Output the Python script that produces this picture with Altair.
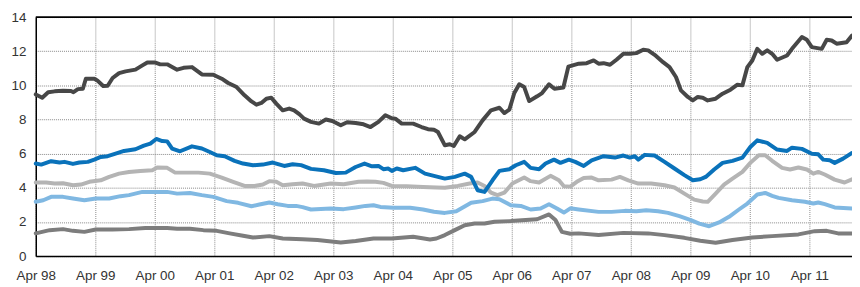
import altair as alt
import pandas as pd

# months since April 1998, and values
a_m = [0, 1.3, 2.5, 3.8, 5.5, 7.1, 7.6, 8.5, 9.5, 10.1, 11.8, 12.4, 13.6, 14.5, 15.5, 16.8, 18.1, 20.1, 21.5, 22.5,
       24, 25.1, 26.5, 28.5, 29.8, 31.5, 33.5, 35.8, 37.5, 38.8, 40.5, 42.1, 43.5, 44.5, 45.5, 46.5, 47.5, 48.5, 49.8,
       51.1, 52.1, 53.2, 54.1, 55.5, 57.1, 58.5, 59.8, 61.5, 62.8, 64.5, 66.1, 67.5, 69.1, 70.5, 71.8, 72.5, 73.8,
       76.1, 77.8, 79.1, 80.3, 81.1, 82.5, 83.5, 84.3, 85.5, 86.5, 88.5, 90.1, 91.8, 93.5, 94.5, 95.5, 96.5, 97.5,
       98.5, 99.5, 101.1, 102.1, 103.5, 104.6, 106.4, 107.4, 109.5, 111.1, 112.5, 113.5, 114.5, 115.8, 117.1, 118.5,
       119.8, 121.1, 122.5, 123.5, 124.8, 126.5, 127.8, 129.1, 130.1, 131.5, 132.5, 133.5, 134.5, 135.5, 137.1,
       138.5, 140.1, 141.5, 142.5, 143.5, 144.5, 145.5, 146.5, 147.5, 148.5, 149.5, 151.5, 152.5, 154.5, 155.5,
       156.5, 158.5, 159.5, 160.5, 161.5, 163.5, 164.6]
a_v = [9.47, 9.28, 9.6, 9.65, 9.69, 9.67, 9.6, 9.78, 9.8, 10.39, 10.39, 10.29, 9.96, 9.98, 10.43, 10.72, 10.82, 10.92,
       11.17, 11.34, 11.34, 11.23, 11.23, 10.92, 11.03, 11.07, 10.64, 10.62, 10.39, 10.14, 9.9, 9.42, 9.06, 8.87,
       8.97, 9.22, 9.28, 8.93, 8.54, 8.64, 8.54, 8.3, 8.05, 7.86, 7.76, 8.0, 7.91, 7.66, 7.84, 7.8, 7.72, 7.56, 7.86,
       8.25, 8.07, 8.05, 7.76, 7.76, 7.56, 7.43, 7.4, 7.27, 6.49, 6.55, 6.45, 7.02, 6.84, 7.27, 7.95, 8.54, 8.69,
       8.38, 8.58, 9.55, 10.06, 9.9, 9.08, 9.36, 9.55, 10.06, 9.8, 9.88, 11.1, 11.27, 11.3, 11.46, 11.27, 11.3,
       11.21, 11.5, 11.85, 11.85, 11.89, 12.09, 12.05, 11.79, 11.36, 11.07, 10.49, 9.71, 9.32, 9.12, 9.32, 9.28,
       9.12, 9.22, 9.51, 9.75, 10.04, 10.0, 11.07, 11.46, 12.14, 11.85, 12.05, 11.85, 11.5, 11.75, 12.14, 12.83,
       12.67, 12.24, 12.14, 12.67, 12.63, 12.44, 12.53, 12.92]

b_m = [0, 1.1, 3.1, 4.8, 5.8, 7.5, 8.8, 10.5, 11.8, 13.1, 14.5, 16.1, 17.8, 20.1, 21.8, 23.1, 24.3, 25.5, 26.5, 27.5,
       29.1, 31.5, 33.5, 35.1, 36.5, 38.1, 40.1, 41.8, 43.8, 45.8, 47.8, 50.1, 51.8, 53.5, 55.5, 58.1, 60.5, 62.5,
       64.5, 66.3, 67.8, 69.1, 70.1, 71.1, 71.8, 72.8, 74.1, 76.5, 78.5, 80.3, 82.5, 84.5, 86.5, 87.8, 89.1, 90.5,
       92.1, 93.5, 95.5, 96.8, 98.5, 99.8, 101.5, 102.8, 104.5, 105.8, 107.5, 108.8, 110.5, 112.1, 114.5, 116.8,
       118.5, 119.8, 120.8, 121.5, 122.8, 124.8, 126.8, 128.8, 130.8, 132.5, 134, 135.1, 136.8, 138.5, 140.5, 142.5,
       144.1, 145.5, 147.5, 149.5, 151.5, 152.5, 154.5, 156.5, 157.8, 158.8, 160.1, 161.1, 162.8, 164.6]
b_v = [5.42, 5.36, 5.56, 5.48, 5.52, 5.4, 5.48, 5.52, 5.65, 5.81, 5.85, 6.0, 6.16, 6.26, 6.47, 6.59, 6.86, 6.74, 6.72,
       6.3, 6.14, 6.43, 6.3, 6.1, 5.91, 5.85, 5.58, 5.42, 5.32, 5.36, 5.48, 5.28, 5.38, 5.33, 5.11, 5.03, 4.87, 4.89,
       5.22, 5.42, 5.26, 5.28, 5.09, 5.13, 4.99, 5.13, 5.03, 5.17, 4.83, 4.7, 4.54, 4.64, 4.83, 4.64, 3.86, 3.76,
       4.44, 4.99, 5.09, 5.32, 5.52, 5.17, 5.09, 5.42, 5.65, 5.46, 5.65, 5.52, 5.28, 5.61, 5.85, 5.77, 5.89, 5.77,
       5.85, 5.65, 5.93, 5.89, 5.52, 5.13, 4.74, 4.44, 4.5, 4.64, 5.07, 5.46, 5.58, 5.77, 6.39, 6.78, 6.63, 6.24,
       6.16, 6.35, 6.28, 6.0, 5.96, 5.65, 5.61, 5.46, 5.71, 6.04]

c_m = [0, 2.1, 3.8, 5.5, 7.5, 9.1, 10.8, 13.1, 14.8, 16.8, 18.8, 21.1, 23.5, 24.5, 26.5, 28.1, 30.5, 32.8, 35.1, 37.5,
       39.8, 42.1, 44.1, 45.8, 47.1, 48.5, 49.8, 51.8, 53.8, 56.1, 59.5, 62.1, 65.1, 66.8, 68.5, 70.1, 71.8, 74.8,
       78.1, 80.8, 82.5, 85.1, 87.5, 89.1, 90.5, 91.8, 93.1, 94.5, 96.1, 98.5, 99.8, 101.5, 103.8, 105.5, 106.5,
       107.8, 109.1, 110.5, 112.1, 113.5, 116.1, 117.8, 119.5, 121.5, 124.1, 126.8, 128.8, 130.8, 132.8, 134.5,
       135.5, 137.1, 138.8, 140.5, 142.5, 144.1, 145.8, 147.1, 148.5, 150.5, 152.1, 153.8, 155.5, 156.8, 157.8,
       159.1, 161.1, 163.1, 164.6]
c_v = [4.31, 4.31, 4.25, 4.27, 4.15, 4.19, 4.35, 4.44, 4.64, 4.83, 4.93, 4.99, 5.03, 5.19, 5.17, 4.89, 4.89, 4.89,
       4.83, 4.6, 4.35, 4.11, 4.11, 4.19, 4.39, 4.35, 4.15, 4.21, 4.25, 4.11, 4.25, 4.21, 4.35, 4.37, 4.35, 4.29,
       4.11, 4.09, 4.05, 4.02, 4.0, 4.11, 4.25, 4.31, 4.11, 3.72, 3.57, 3.72, 4.25, 4.6, 4.39, 4.31, 4.7, 4.44, 4.09,
       4.07, 4.35, 4.58, 4.6, 4.44, 4.48, 4.64, 4.44, 4.25, 4.25, 4.15, 4.02, 3.66, 3.31, 3.2, 3.18, 3.66, 4.19,
       4.54, 4.93, 5.46, 5.91, 5.91, 5.58, 5.17, 5.07, 5.19, 5.07, 4.83, 4.93, 4.78, 4.48, 4.31, 4.5]

d_m = [0, 1.5, 3.1, 5.5, 7.5, 9.8, 12.1, 14.8, 17.1, 18.8, 21.5, 24.1, 26.5, 28.5, 31.1, 33.5, 35.8, 38.5, 40.8, 43.5,
       45.1, 47.1, 48.8, 50.8, 52.5, 53.8, 55.5, 59.5, 62.1, 64.5, 66.5, 68.1, 69.5, 72.1, 75.5, 78.1, 80.3, 82.5,
       84.8, 87.8, 90.1, 92.1, 93.5, 95.8, 97.8, 99.8, 101.8, 103.5, 105.1, 106.5, 107.8, 109.5, 113.5, 116.1, 118.8,
       121.1, 123.1, 125.5, 127.5, 129.8, 132.1, 133.8, 135.8, 137.8, 139.8, 141.8, 143.5, 145.5, 147.1, 148.5,
       149.8, 152.5, 155.1, 156.8, 157.8, 159.1, 161.1, 164.6]
d_v = [3.18, 3.27, 3.47, 3.47, 3.37, 3.27, 3.37, 3.37, 3.51, 3.57, 3.76, 3.76, 3.76, 3.66, 3.7, 3.57, 3.47, 3.22, 3.12,
       2.92, 3.02, 3.14, 3.04, 2.94, 2.94, 2.87, 2.73, 2.79, 2.75, 2.85, 2.94, 2.98, 2.88, 2.83, 2.83, 2.73, 2.6,
       2.53, 2.63, 3.12, 3.22, 3.37, 3.33, 2.98, 2.94, 2.73, 2.79, 3.04, 2.79, 2.55, 2.8, 2.73, 2.59, 2.59, 2.65,
       2.63, 2.69, 2.63, 2.53, 2.34, 2.11, 1.9, 1.75, 1.97, 2.3, 2.73, 3.08, 3.61, 3.7, 3.53, 3.41, 3.27, 3.18, 3.08,
       3.14, 3.04, 2.85, 2.79]

e_m = [0, 2.8, 5.5, 7.5, 9.8, 12.1, 15.5, 18.8, 22.1, 26.5, 28.5, 31.1, 33.8, 36.5, 39.1, 41.8, 43.8, 47.1, 49.8, 53.8,
       56.8, 61.5, 64.5, 68.1, 71.8, 76.1, 79.5, 80.8, 82.5, 84.5, 86.5, 88.5, 90.5, 92.5, 95.8, 98.8, 101.1, 103.5,
       104.8, 106.1, 107.8, 109.5, 113.5, 118.5, 123.5, 126.8, 130.8, 134, 137.1, 140.5, 144.5, 148.5, 153.8, 157.1,
       159.5, 161.8, 164.6]
e_v = [1.33, 1.52, 1.58, 1.48, 1.42, 1.56, 1.56, 1.58, 1.64, 1.64, 1.6, 1.6, 1.52, 1.48, 1.33, 1.19, 1.09, 1.17, 1.03,
       0.99, 0.94, 0.8, 0.88, 1.03, 1.03, 1.13, 0.97, 1.03, 1.23, 1.52, 1.81, 1.91, 1.91, 2.01, 2.05, 2.11, 2.16, 2.44,
       2.11, 1.42, 1.31, 1.33, 1.23, 1.36, 1.33, 1.23, 1.07, 0.9, 0.78, 0.94, 1.09, 1.17, 1.27, 1.46, 1.48, 1.33, 1.33]

series_names = ["E", "D", "C", "B", "A"]
series_colors = ["#7d7d7d", "#80b8e2", "#b4b4b4", "#0a72ba", "#474747"]
series_data = {"A": (a_m, a_v), "B": (b_m, b_v), "C": (c_m, c_v), "D": (d_m, d_v), "E": (e_m, e_v)}

tick_months = [0, 12, 24, 36, 48, 60, 72, 84, 96, 108, 120, 132, 144, 156]
tick_labels = ["Apr 98", "Apr 99", "Apr 00", "Apr 01", "Apr 02", "Apr 03", "Apr 04", "Apr 05", "Apr 06",
               "Apr 07", "Apr 08", "Apr 09", "Apr 10", "Apr 11"]
y_ticks = [0, 2, 4, 6, 8, 10, 12, 14]

rows = []
for k, name in enumerate(series_names):
    ms, vs = series_data[name]
    for m, v in zip(ms, vs):
        rows.append({"m": m, "v": v, "s": name, "o": k})
df = pd.DataFrame(rows)

label_expr = "[" + ",".join("'" + t + "'" for t in tick_labels) + "][round(datum.value/12)]"

lines = alt.Chart(df).mark_line(strokeWidth=4, strokeJoin="round", strokeCap="round").encode(
    x=alt.X("m:Q", scale=alt.Scale(domain=[0, 164.6], nice=False, zero=False),
            axis=alt.Axis(values=tick_months, labelExpr=label_expr, title=None, ticks=False,
                          domainColor="black", domainWidth=1.5, gridColor="#a8a8a8",
                          gridDash=[1, 1], gridWidth=1.3, labelPadding=13, labelFlush=False)),
    y=alt.Y("v:Q", scale=alt.Scale(domain=[0, 14], nice=False),
            axis=alt.Axis(values=y_ticks, title=None, ticks=False, domainColor="black", domainWidth=1.5,
                          gridColor="#888888", gridDash=[1, 1], gridWidth=1, labelPadding=10)),
    color=alt.Color("s:N", scale=alt.Scale(domain=series_names, range=series_colors), legend=None),
    detail="s:N",
    order="o:Q",
)

top_rule = alt.Chart(alt.Data(values=[{}])).mark_rule(color="black", strokeWidth=1.8).encode(
    y=alt.value(0)
)

chart = alt.layer(lines, top_rule).properties(
    width=823, height=241,
    autosize=alt.AutoSizeParams(type="none"),
    padding={"left": 28, "top": 8, "right": 0, "bottom": 30},
).configure_view(stroke=None).configure_axis(
    labelFont="Liberation Sans", labelFontSize=13.5, labelColor="#333333"
)

chart.save("out.html", embed_options={"renderer": "svg", "actions": False})
